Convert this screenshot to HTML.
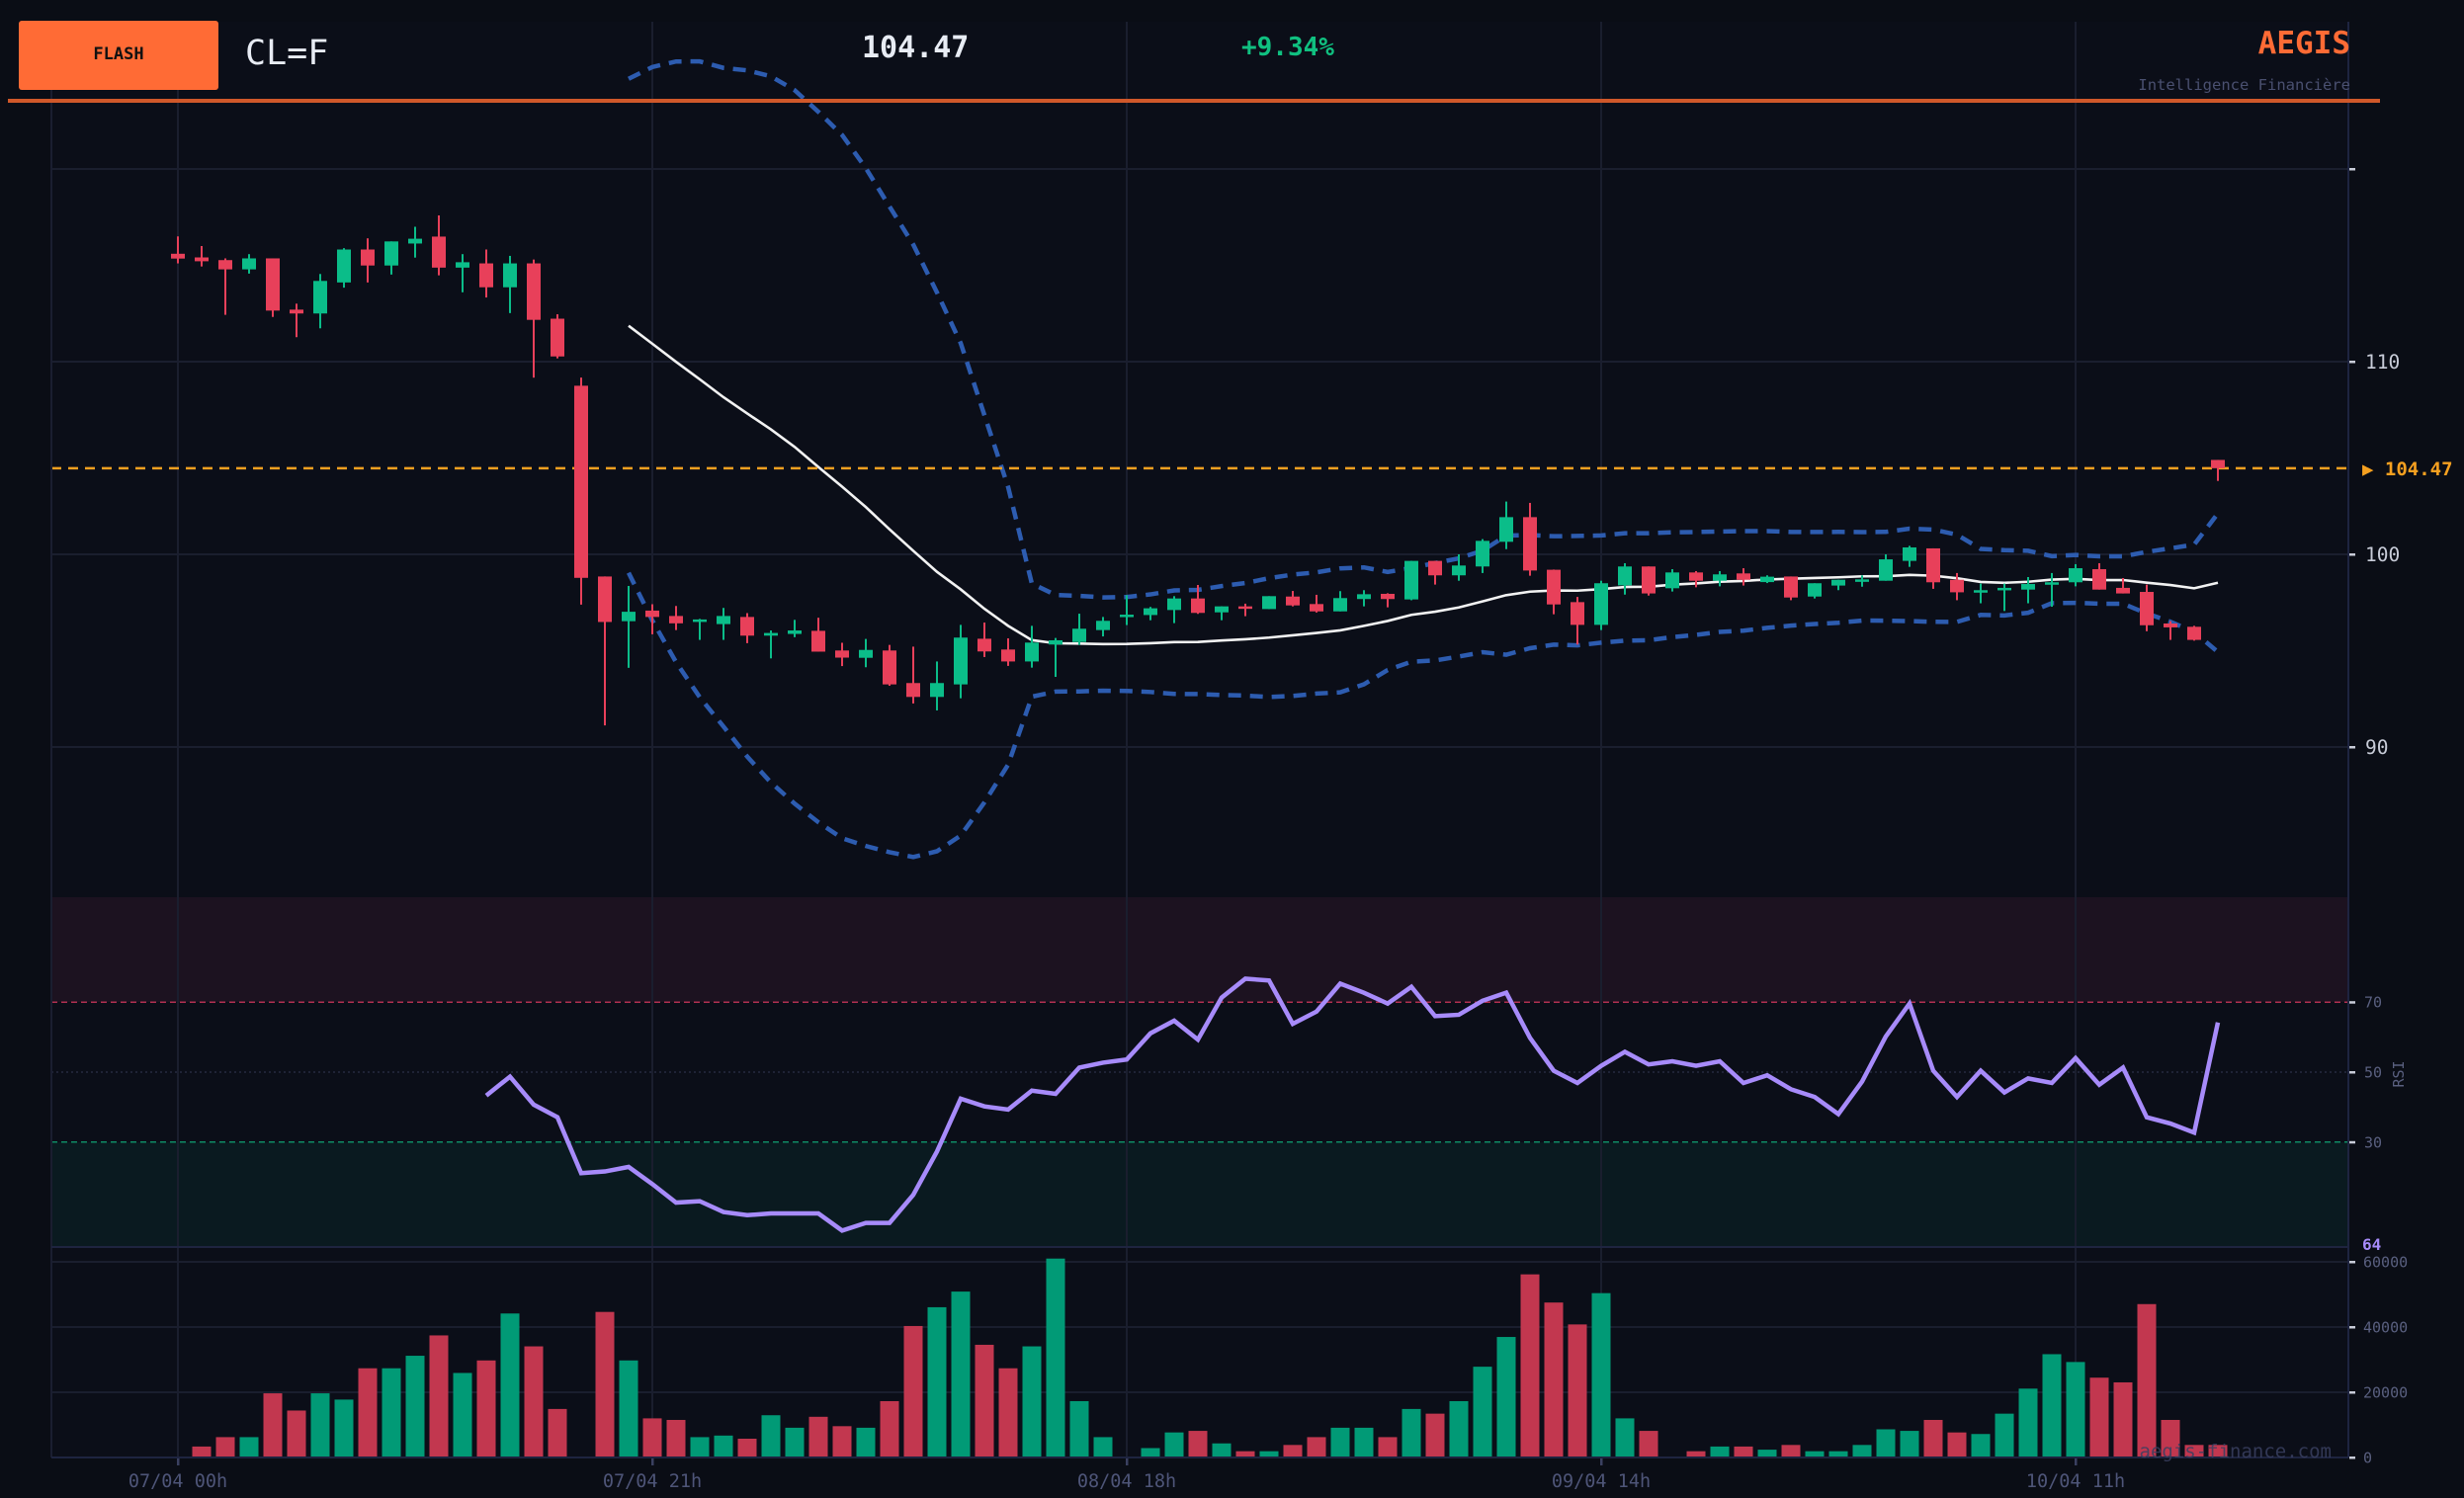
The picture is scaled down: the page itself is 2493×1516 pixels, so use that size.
<!DOCTYPE html>
<html><head><meta charset="utf-8">
<style>
html,body{margin:0;padding:0;background:#0a0d15;}
svg{display:block;}
text{font-family:"DejaVu Sans Mono","Liberation Mono",monospace;}
</style></head>
<body>
<svg id="chart" width="2493" height="1516" viewBox="0 0 2493 1516" xmlns="http://www.w3.org/2000/svg">
  <rect x="0" y="0" width="2493" height="1516" fill="#0a0d15"/>
  <rect x="52" y="22" width="2324" height="1453" fill="#0b0e18"/>
  <rect x="52" y="908" width="2324" height="106" fill="#1c1220"/>
  <rect x="52" y="1156" width="2324" height="106" fill="#0a1a20"/>
  <g id="grid"></g>
  <g id="volume"></g>
  <g id="rsi"></g>
  <g id="price"></g>
  <g id="axes"></g>
  <text x="2359" y="1475" text-anchor="end" font-size="19" fill="#3a4060" fill-opacity="0.85">aegis-finance.com</text>
  <!-- header -->
  <rect x="19" y="21" width="202" height="70" rx="3" fill="#ff6b35"/>
  <text x="120" y="60" text-anchor="middle" font-size="17" font-weight="bold" fill="#111">FLASH</text>
  <text x="248" y="65" font-size="35" fill="#e8ecf4">CL=F</text>
  <text x="872" y="58" font-size="30" font-weight="bold" fill="#e8ecf4">104.47</text>
  <text x="1256" y="56" font-size="26" font-weight="bold" fill="#10c080">+9.34%</text>
  <text x="2378" y="54" text-anchor="end" font-size="31" font-weight="bold" fill="#ff6b35">AEGIS</text>
  <text x="2378" y="91" text-anchor="end" font-size="15.5" fill="#4a5070">Intelligence Financière</text>
  <rect x="8" y="100" width="2400" height="4" fill="#d0582a"/>
</svg>
<script>
const dates = ["07/04 00h","07/04 21h","08/04 18h","09/04 14h","10/04 11h"];
const dateIdx = [0,20,40,60,80];
const opens = [115.6,115.41,115.27,114.79,115.36,112.7,112.5,114.11,115.82,114.99,116.13,116.49,114.88,115.1,113.86,115.1,112.23,108.75,98.85,96.53,97.08,96.8,96.54,96.38,96.75,95.78,95.87,96.03,95.01,94.63,95.01,93.32,92.6,93.25,95.62,95.06,94.44,95.32,95.45,96.07,96.79,96.85,97.11,97.71,96.99,97.3,97.16,97.81,97.42,97.04,97.68,97.95,97.66,99.66,98.91,99.37,100.65,101.93,99.2,97.52,96.34,98.39,99.37,98.24,99.06,98.63,99.01,98.56,98.85,97.81,98.38,98.58,98.63,99.66,100.31,98.68,98.03,98.14,98.17,98.43,98.55,99.23,98.26,98.05,96.41,96.24,104.9];
const highs = [116.5,116.0,115.36,115.58,115.36,113.01,114.55,115.89,116.4,116.24,117.0,117.59,115.58,115.82,115.49,115.3,112.46,109.17,98.85,98.36,97.41,97.32,96.65,97.22,96.95,96.05,96.6,96.71,95.41,95.61,95.3,95.21,94.44,96.34,96.46,95.64,96.29,95.66,96.92,96.75,97.88,97.27,97.83,98.41,97.3,97.44,97.83,98.1,97.9,98.09,98.14,97.98,99.66,99.66,100.0,100.79,102.74,102.67,99.21,97.79,98.63,99.54,99.37,99.23,99.13,99.13,99.28,98.91,98.85,98.5,98.68,98.91,100.0,100.44,100.31,99.03,98.48,98.48,98.82,99.03,99.49,99.54,98.77,98.43,96.53,96.29,104.9];
const lows = [115.1,114.94,112.43,114.57,112.32,111.27,111.73,113.84,114.11,114.52,115.4,114.48,113.6,113.33,112.52,109.17,110.17,97.39,91.12,94.11,95.85,96.07,95.56,95.56,95.39,94.6,95.7,94.95,94.2,94.14,93.18,92.26,91.9,92.53,94.67,94.21,94.12,93.64,95.3,95.74,96.33,96.58,96.43,96.91,96.58,96.79,97.16,97.3,96.98,97.04,97.3,97.25,97.62,98.43,98.63,99.03,100.27,98.89,96.89,95.32,96.07,97.91,97.86,98.07,98.29,98.34,98.38,98.51,97.62,97.71,98.14,98.32,98.63,99.35,98.21,97.62,97.46,97.06,97.46,97.28,98.34,98.17,97.97,96.01,95.56,95.52,103.81];
const closes = [115.35,115.21,114.79,115.36,112.65,112.5,114.19,115.82,114.99,116.24,116.38,114.88,115.16,113.86,115.1,112.17,110.27,98.78,96.49,97.02,96.75,96.42,96.62,96.8,95.78,95.92,96.05,94.95,94.64,95.04,93.25,92.6,93.32,95.68,94.96,94.44,95.42,95.54,96.14,96.55,96.87,97.2,97.71,96.96,97.3,97.2,97.83,97.35,97.04,97.73,97.93,97.68,99.66,98.91,99.42,100.7,101.93,99.16,97.4,96.34,98.5,99.37,97.97,99.06,98.63,98.96,98.68,98.84,97.76,98.5,98.68,98.7,99.74,100.36,98.55,98.03,98.14,98.26,98.46,98.55,99.28,98.17,97.97,96.32,96.21,95.56,104.47];
const volumes = [0,3360,6240,6240,19680,14400,19680,17760,27360,27360,31200,37440,25920,29760,44160,34080,14880,0,44640,29760,12000,11520,6240,6720,5760,12960,9120,12480,9600,9120,17280,40320,46080,50880,34560,27360,34080,61000,17280,6240,0,2880,7680,8160,4320,1920,1920,3840,6240,9120,9120,6240,14880,13440,17280,27840,36960,56160,47520,40800,50400,12000,8160,0,1920,3360,3360,2400,3840,1920,1920,3840,8640,8160,11520,7680,7200,13440,21120,31680,29280,24480,23040,47040,11520,3840,3840];
const rsiStart = 13;
const rsiValues = [43.3,48.7,40.7,37.1,21.1,21.6,22.9,18,12.7,13.1,10,9.1,9.6,9.6,9.6,4.7,6.9,6.9,14.9,27.3,42.4,40.2,39.3,44.7,43.8,51.3,52.7,53.6,61.1,64.7,59.3,71.3,76.7,76.2,63.8,67.3,75.3,72.7,69.6,74.4,66,66.4,70.4,72.7,59.8,50.4,46.9,51.8,55.8,52.2,53.1,51.8,53.1,46.9,49.1,45.1,42.9,38,47.3,60.2,69.6,50.4,42.9,50.4,44.2,48.2,46.9,54,46.4,51.3,37.1,35.3,32.7,64.2];
const priceTicks = [120,110,100,90];
const priceTickLabels = ["","110","100","90"];
const rsiTicks = [70,50,30];
const volTicks = [0,20000,40000,60000];
const lastPrice = 104.47;
const bbPeriod = 20;

const NS = "http://www.w3.org/2000/svg";
function mk(parent, tag, attrs){ const e=document.createElementNS(NS,tag); for(const k in attrs) e.setAttribute(k,attrs[k]); parent.appendChild(e); return e; }
const L=52, R=2376;
const xOf = i => 180 + 24*i;
const yP = p => 561 - (p-100)*19.5;
const yR = r => 1262 - r*3.54;
const yV = v => 1475 - v*198/60000;

const grid=document.getElementById('grid'), volG=document.getElementById('volume'),
      rsiG=document.getElementById('rsi'), priceG=document.getElementById('price'), axes=document.getElementById('axes');

// grid
dateIdx.forEach((d)=>{ const g=mk(grid,'line',{x1:xOf(d),x2:xOf(d),y1:22,y2:1475,stroke:'#1a1e2e','stroke-width':2});
    });
priceTicks.forEach(t=>{ const g=mk(grid,'line',{x1:L,x2:R,y1:yP(t),y2:yP(t),stroke:'#1a1e2e','stroke-width':2});
    });
volTicks.forEach(t=>{ const g=mk(grid,'line',{x1:L,x2:R,y1:yV(t),y2:yV(t),stroke:'#1a1e2e','stroke-width':2});
    });
{ const g=mk(grid,'line',{x1:L,x2:R,y1:yR(50),y2:yR(50),stroke:'#262a40','stroke-width':1.5,'stroke-dasharray':'2 3'});
    }

// volume
volumes.forEach((v,i)=>{ if(v<=0) return; const up=closes[i]>=opens[i];
  const b=mk(volG,'rect',{x:xOf(i)-9.5,y:yV(v),width:19,height:yV(0)-yV(v),fill:up?'#019a76':'#c2374f'});
    });

// rsi
{ const l70=mk(rsiG,'line',{x1:L,x2:R,y1:yR(70),y2:yR(70),stroke:'#b03050','stroke-width':1.5,'stroke-dasharray':'6 4'});
   
  const l30=mk(rsiG,'line',{x1:L,x2:R,y1:yR(30),y2:yR(30),stroke:'#0f8a64','stroke-width':1.5,'stroke-dasharray':'6 4'});
   
  const pts=rsiValues.map((r,k)=>xOf(rsiStart+k)+','+yR(r)).join(' ');
  const pl=mk(rsiG,'polyline',{points:pts,fill:'none',stroke:'#a78bfa','stroke-width':4.5,'stroke-linejoin':'miter'});
    }

// bollinger & sma
const sma=[],up=[],lo=[];
for(let i=bbPeriod-1;i<closes.length;i++){ const w=closes.slice(i-bbPeriod+1,i+1); const m=w.reduce((a,b)=>a+b,0)/bbPeriod;
  const sd=Math.sqrt(w.reduce((a,b)=>a+(b-m)*(b-m),0)/(bbPeriod-1)); sma.push([i,m]); up.push([i,m+2*sd]); lo.push([i,m-2*sd]); }
const clip=mk(priceG,'clipPath',{id:'pclip'}); mk(clip,'rect',{x:L,y:22,width:R-L,height:886});
const bandG=mk(priceG,'g',{'clip-path':'url(#pclip)'});
 
const ptsOf=a=>a.map(([i,v])=>xOf(i)+','+yP(v)).join(' ');
{ const u=mk(bandG,'polyline',{points:ptsOf(up),fill:'none',stroke:'#2d5cb0','stroke-width':4.5,'stroke-dasharray':'13 9'});
   
  const d=mk(bandG,'polyline',{points:ptsOf(lo),fill:'none',stroke:'#2d5cb0','stroke-width':4.5,'stroke-dasharray':'13 9'});
   
  const s=mk(bandG,'polyline',{points:ptsOf(sma),fill:'none',stroke:'#f2f2f2','stroke-width':2.6});
    }

// last price line
{ const lp=mk(priceG,'line',{x1:L,x2:R,y1:yP(lastPrice),y2:yP(lastPrice),stroke:'#f5a020','stroke-width':2.5,'stroke-dasharray':'10 7'});
    }

// candles
opens.forEach((o,i)=>{ const c=closes[i], isUp=c>=o, col=isUp?'#0bbd89':'#e8405a', x=xOf(i);
  const g=mk(priceG,'g',{});
   
  mk(g,'line',{x1:x,x2:x,y1:yP(highs[i]),y2:yP(lows[i]),stroke:col,'stroke-width':2});
  const top=yP(Math.max(o,c)), h=Math.max(2.5,Math.abs(yP(o)-yP(c)));
  mk(g,'rect',{x:x-7,y:top,width:14,height:h,fill:col});
});

// axes
{ const a=mk(axes,'line',{x1:R,x2:R,y1:22,y2:1475,stroke:'#1e2440','stroke-width':2});
   
  const lft=mk(axes,'line',{x1:L,x2:L,y1:22,y2:1475,stroke:'#1a1e30','stroke-width':2});
   
  const b1=mk(axes,'line',{x1:L,x2:R,y1:1262,y2:1262,stroke:'#1e2440','stroke-width':2});
   
  const b2=mk(axes,'line',{x1:L,x2:R,y1:1475,y2:1475,stroke:'#1e2440','stroke-width':2});
    }
priceTicks.forEach((t,k)=>{ mk(axes,'rect',{x:R+1,y:yP(t)-1,width:6,height:2.5,fill:'#c8ccd8'});
  if(priceTickLabels[k]){ const tx=mk(axes,'text',{x:2393,y:yP(t)+7,'font-size':19.5,fill:'#c8ccd8'}); tx.textContent=priceTickLabels[k];
    } });
{ const tx=mk(axes,'text',{x:2390,y:yP(lastPrice)+7,'font-size':19,fill:'#f5a020','font-weight':'bold'}); tx.textContent='▶ '+lastPrice.toFixed(2);
    }
rsiTicks.forEach(t=>{ mk(axes,'rect',{x:R+1,y:yR(t)-1,width:6,height:2.5,fill:'#c8ccd8'});
  const tx=mk(axes,'text',{x:2392,y:yR(t)+5.5,'font-size':15,fill:'#5a6080'}); tx.textContent=String(t);
    });
{ const tx=mk(axes,'text',{x:2432,y:1087,'font-size':15,fill:'#5a6080','text-anchor':'middle',transform:'rotate(-90 2432 1087)'}); tx.textContent='RSI';
   
  const rv=mk(axes,'text',{x:2390,y:1265,'font-size':16,fill:'#a78bfa','font-weight':'bold'}); rv.textContent=String(Math.round(rsiValues[rsiValues.length-1]));
    }
volTicks.forEach(t=>{ mk(axes,'rect',{x:R+1,y:yV(t)-1,width:6,height:2.5,fill:'#c8ccd8'});
  const tx=mk(axes,'text',{x:2391,y:yV(t)+5.5,'font-size':15,fill:'#5a6080'}); tx.textContent=String(t);
    });
dates.forEach((d,k)=>{ const x=xOf(dateIdx[k]); mk(axes,'rect',{x:x-1,y:1476,width:2.5,height:7,fill:'#3a4060'});
  const tx=mk(axes,'text',{x:x,y:1505,'font-size':18.5,fill:'#4e5578','text-anchor':'middle'}); tx.textContent=d;
    });
</script>
</body></html>
